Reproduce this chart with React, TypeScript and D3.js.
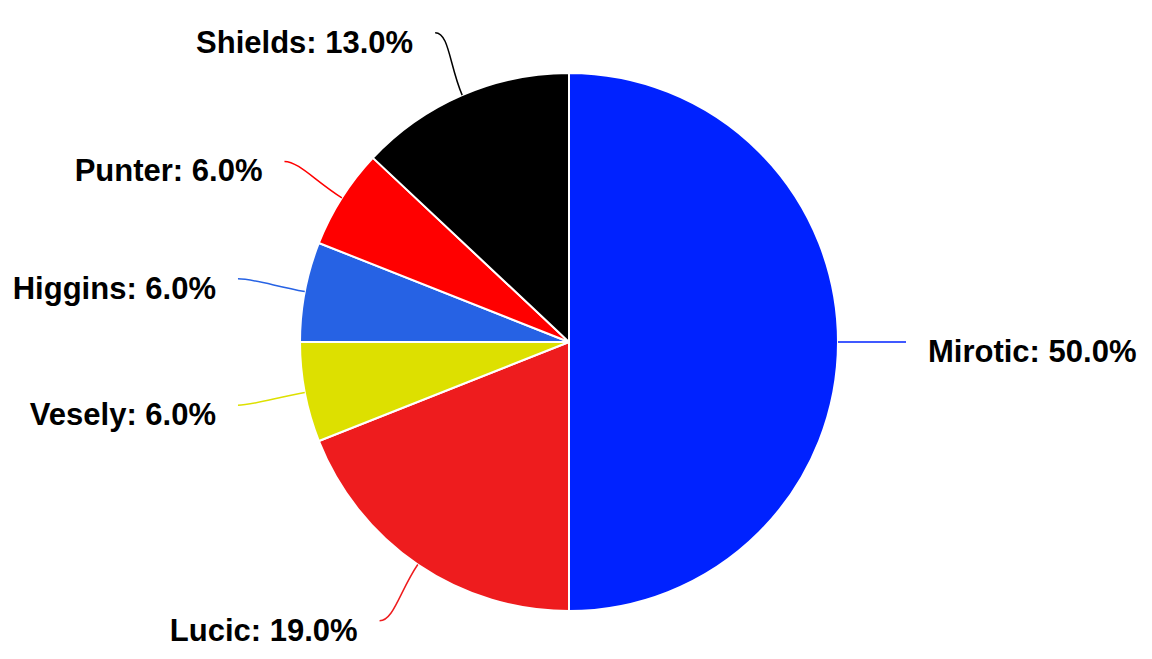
import React from 'react';
import * as d3 from 'd3';

// Chart data
const players = ['Mirotic', 'Lucic', 'Vesely', 'Higgins', 'Punter', 'Shields'];
const shares = [50.0, 19.0, 6.0, 6.0, 6.0, 13.0];
const colors = ['#0022ff', '#ee1c1e', '#dde000', '#2662e4', '#ff0000', '#000000'];

const width = 1152, height = 659;
const cx = 569, cy = 342, radius = 269;
const labelRadius = 337;

const App = () => {
  const pie = d3.pie<number>().sort(null).value(d => d)(shares);
  const arc = d3.arc<d3.PieArcDatum<number>>().innerRadius(0).outerRadius(radius);

  const polar = (a: number, r: number) => [Math.sin(a) * r, -Math.cos(a) * r];

  return (
    <svg width={width} height={height} style={{ position: 'absolute', left: 0, top: 0 }}>
      <g transform={`translate(${cx},${cy})`}>
        {pie.map((d, i) => (
          <path key={players[i]} d={arc(d) || ''} fill={colors[i]} stroke="#ffffff" strokeWidth={2} strokeLinejoin="round" />
        ))}
        {pie.map((d, i) => {
          const mid = (d.startAngle + d.endAngle) / 2;
          const [ex, ey] = polar(mid, radius);
          const [bx, by] = polar(mid, radius + 32);
          const [lx, ly] = polar(mid, labelRadius);
          const dir = lx >= 0 ? 1 : -1;
          const path = d3.path();
          path.moveTo(ex, ey);
          path.bezierCurveTo(bx, by, lx - dir * 14, ly, lx, ly);
          return (
            <g key={'lbl' + players[i]}>
              <path d={path.toString()} fill="none" stroke={colors[i]} strokeWidth={1.5} />
              <text
                x={lx + dir * 22}
                y={ly + 20}
                textAnchor={dir > 0 ? 'start' : 'end'}
                fontFamily="'Liberation Sans', Arial, sans-serif"
                fontWeight="bold"
                fontSize={31}
                fill="#000000"
              >
                {`${players[i]}: ${shares[i].toFixed(1)}%`}
              </text>
            </g>
          );
        })}
      </g>
    </svg>
  );
};

export default App;
